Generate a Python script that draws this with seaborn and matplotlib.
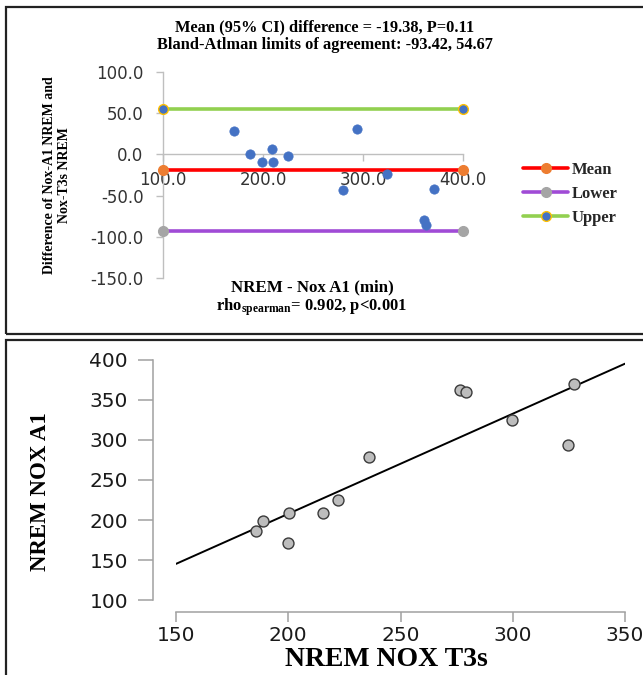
import matplotlib
matplotlib.use("Agg")
import matplotlib.pyplot as plt
from matplotlib.patches import Rectangle
import numpy as np
import pandas as pd
import seaborn as sns

# ---------------- data ----------------
# Top panel: Bland-Altman (x = NREM Nox A1, y = difference)
ba_x = [171, 186.7, 198.6, 208.5, 209.7, 225.4, 294.4, 280, 324.4, 371.3, 361, 362.6]
ba_diff = [29, 0, -9.7, 6.9, -9.3, -2, 31, -43, -23.8, -42, -79.4, -85.5]
limit_names = ["Mean", "Lower", "Upper"]
limit_values = [-19.38, -93.42, 54.67]
limit_x = [100, 400]
ba_yticks = [-150, -100, -50, 0, 50, 100]
ba_xticks = [100, 200, 300, 400]

# Bottom panel: correlation
t3s = [185.8, 188.7, 200, 200.2, 215.3, 222.1, 235.8, 276.3, 279.2, 299.6, 324.5, 327.4]
a1 = [186, 199, 170.7, 209, 208.5, 224.7, 279, 362, 360, 324.4, 293.6, 370]
sc_xticks = [150, 200, 250, 300, 350]
sc_yticks = [100, 150, 200, 250, 300, 350, 400]

# ---------------- style ----------------
sns.set_theme(style="white")
plt.rcParams["font.family"] = ["DejaVu Sans"]
plt.rcParams["mathtext.fontset"] = "custom"
plt.rcParams["mathtext.rm"] = "Liberation Serif:bold"
plt.rcParams["mathtext.it"] = "Liberation Serif:bold"
plt.rcParams["mathtext.bf"] = "Liberation Serif:bold"

W, H = 643, 675
fig = plt.figure(figsize=(W / 100, H / 100), dpi=100)
fig.patch.set_facecolor("white")

def fx(px):
    return px / W

def fy(py):
    return 1 - py / H

serif = dict(family="Liberation Serif", weight="bold", color="black")

# panel borders
fig.add_artist(Rectangle((fx(6), fy(334)), 1.0, (334 - 7) / H, transform=fig.transFigure,
                         fill=False, ec="#222222", lw=1.6))
fig.add_artist(Rectangle((fx(6), fy(700)), 1.0, (700 - 340) / H, transform=fig.transFigure,
                         fill=False, ec="#222222", lw=1.6))

# ---------------- top panel ----------------
ax1 = fig.add_axes([fx(163), fy(278), 300 / W, 206 / H])
ax1.set_facecolor("none")
line_colors = {"Mean": "#FF0000", "Lower": "#A04BD6", "Upper": "#92D050"}
marker_face = {"Mean": "#ED7D31", "Lower": "#A5A5A5", "Upper": "#4472C4"}
marker_edge = {"Mean": "#ED7D31", "Lower": "#A5A5A5", "Upper": "#FFC000"}
handles = []
for name, val in zip(limit_names, limit_values):
    df = pd.DataFrame({"x": limit_x, "y": [val, val]})
    sns.lineplot(data=df, x="x", y="y", ax=ax1, color=line_colors[name], lw=2.6,
                 marker="o", markersize=7, markerfacecolor=marker_face[name],
                 markeredgecolor=marker_edge[name], markeredgewidth=1,
                 clip_on=False, zorder=3)
    handles.append(ax1.lines[-1])

sns.scatterplot(x=ba_x, y=ba_diff, ax=ax1, color="#4472C4", s=45, edgecolor="#4472C4",
                linewidth=0.5, zorder=4, clip_on=False)

ax1.set_xlim(100, 400)
ax1.set_ylim(-150, 100)
ax1.set_xticks(ba_xticks)
ax1.set_yticks(ba_yticks)
ax1.set_xticklabels([f"{v:.1f}" for v in ba_xticks])
ax1.set_yticklabels([f"{v:.1f}" for v in ba_yticks])
for s in ["top", "right"]:
    ax1.spines[s].set_visible(False)
ax1.spines["bottom"].set_position(("data", 0))
for s in ["left", "bottom"]:
    ax1.spines[s].set_color("#BFBFBF")
    ax1.spines[s].set_linewidth(1)
ax1.tick_params(axis="both", direction="out", length=5, width=1, color="#BFBFBF",
                labelsize=12, labelcolor="#333333", bottom=True, left=True)
ax1.tick_params(axis="x", pad=7)
ax1.tick_params(axis="y", pad=9)
ax1.set_xlabel("")
ax1.set_ylabel("")

fig.legend(handles, limit_names, loc="center left", bbox_to_anchor=(fx(523), fy(194)),
           bbox_transform=fig.transFigure, frameon=False,
           prop=dict(family="Liberation Serif", weight="bold", size=12),
           handlelength=2.7, handletextpad=0.2, labelspacing=0.5,
           borderpad=0, borderaxespad=0)

fig.text(fx(325), fy(27), "Mean (95% CI) difference = -19.38, P=0.11", ha="center",
         va="center", size=11.8, **serif)
fig.text(fx(325), fy(45), "Bland-Atlman limits of agreement: -93.42, 54.67", ha="center",
         va="center", size=11.8, **serif)
fig.text(fx(57), fy(175), "Difference of Nox-A1 NREM and\nNox-T3s NREM", ha="center",
         va="center", rotation=90, size=10, multialignment="center", linespacing=1.25,
         **serif)
fig.text(fx(312), fy(287), "NREM - Nox A1 (min)", ha="center", va="center", size=12.2,
         **serif)
fig.text(fx(312), fy(307), r"rho$_{\mathrm{spearman}}$= 0.902, p<0.001", ha="center",
         va="center", size=12, **serif)

# ---------------- bottom panel ----------------
ax2 = fig.add_axes([fx(176), fy(600), 449 / W, 240 / H])
ax2.set_facecolor("none")
ax2.set_xlim(150, 350)
ax2.set_ylim(100, 400)
sns.regplot(x=t3s, y=a1, ax=ax2, scatter=False, ci=None, truncate=False,
            line_kws=dict(color="black", lw=1.4))
sns.scatterplot(x=t3s, y=a1, ax=ax2, s=62, color="#BDBDBD", edgecolor="#3A3A3A",
                linewidth=1.0, zorder=4, clip_on=False)
ax2.set_xlim(150, 350)
ax2.set_ylim(100, 400)
ax2.set_xticks(sc_xticks)
ax2.set_yticks(sc_yticks)
for s in ["top", "right"]:
    ax2.spines[s].set_visible(False)
ax2.spines["left"].set_position(("outward", 16.5))
ax2.spines["bottom"].set_position(("outward", 8.6))
for s in ["left", "bottom"]:
    ax2.spines[s].set_color("#A0A0A0")
    ax2.spines[s].set_linewidth(1.1)
ax2.tick_params(axis="both", direction="out", width=1.1, color="#A0A0A0",
                labelsize=14.5, labelcolor="#1A1A1A", bottom=True, left=True)
ax2.tick_params(axis="y", length=11, pad=7)
ax2.tick_params(axis="x", length=7, pad=3)
ax2.set_xlabel("")
ax2.set_ylabel("")

fig.text(fx(41), fy(492), "NREM NOX A1", ha="center", va="center", rotation=90, size=16.5,
         **serif)
fig.text(fx(386), fy(659), "NREM NOX T3s", ha="center", va="center", size=20, **serif)

fig.savefig("out.png", dpi=100, facecolor="white")
